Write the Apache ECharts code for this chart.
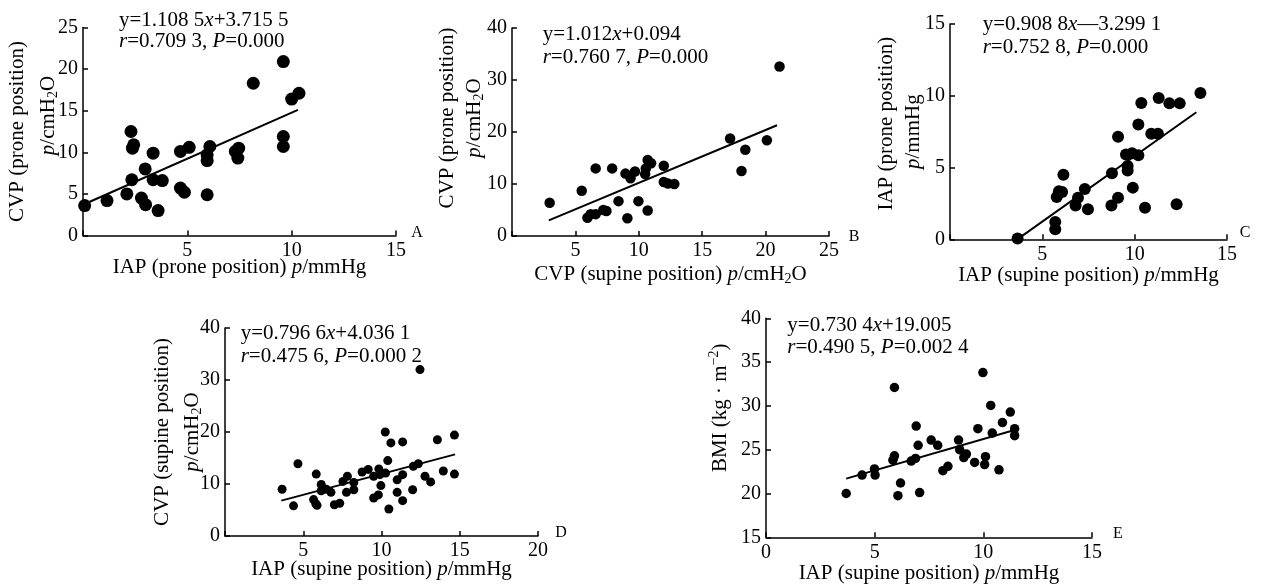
<!DOCTYPE html>
<html><head><meta charset="utf-8">
<script src="https://cdn.jsdelivr.net/npm/echarts@6/dist/echarts.min.js"></script>
<style>html,body{margin:0;padding:0;background:#fff}#c{width:1264px;height:587px}</style>
</head><body><div id="c"></div>
<script>
// ---------- DATA ----------
// Panel A: IAP (prone) vs CVP (prone)
const aPoints = [[0.08,3.6],[1.15,4.2],[2.1,5.0],[2.3,12.5],[2.37,10.5],[2.43,10.9],[2.34,6.7],[2.8,4.5],[3.0,3.7],[2.98,8.0],[3.36,9.9],[3.36,6.7],[3.8,6.6],[3.6,3.0],[4.67,5.7],[4.86,5.2],[4.67,10.1],[5.09,10.6],[5.95,4.9],[5.95,9.7],[5.95,9.0],[6.08,10.7],[7.3,10.1],[7.42,9.3],[7.46,10.5],[8.16,18.3],[9.6,20.9],[9.6,11.9],[9.6,10.7],[10.0,16.4],[10.35,17.1]];
const aFit = [[0,3.7],[10.3,15.1]];
const aEq = ['y=1.108 5{i|x}+3.715 5', '{i|r}=0.709 3, {i|P}=0.000'];
// Panel B: CVP (supine) vs CVP (prone)
const bPoints = [[2.97,6.4],[5.5,8.7],[5.95,3.5],[6.2,4.2],[6.6,4.2],[6.6,13.0],[7.2,5.0],[7.45,4.8],[7.9,13.0],[8.4,6.7],[8.95,12.0],[9.35,11.1],[9.7,12.4],[9.1,3.4],[9.97,6.7],[10.5,11.9],[10.55,13.0],[10.7,4.9],[10.7,14.6],[10.97,14.0],[11.97,13.5],[11.97,10.4],[12.3,10.1],[12.8,10.0],[17.2,18.75],[18.1,12.5],[18.4,16.6],[20.1,18.4],[21.1,32.6]];
const bFit = [[2.9,3.0],[20.9,21.3]];
const bEq = ['y=1.012{i|x}+0.094', '{i|r}=0.760 7, {i|P}=0.000'];
// Panel C: IAP (supine) vs IAP (prone)
const cPoints = [[3.66,0.05],[5.7,1.2],[5.7,0.7],[5.78,2.95],[5.9,3.35],[6.07,3.3],[6.14,4.5],[6.8,2.35],[6.93,2.9],[7.3,3.5],[7.47,2.1],[8.74,2.35],[8.77,4.6],[9.1,2.9],[9.1,7.15],[9.53,5.9],[9.62,5.1],[9.62,4.8],[9.86,6.0],[9.9,3.6],[10.2,5.85],[10.2,8.0],[10.36,9.5],[10.56,2.2],[10.9,7.35],[11.26,7.35],[11.3,9.85],[11.88,9.47],[12.44,9.47],[12.27,2.45],[13.56,10.2]];
const cFit = [[3.7,0.05],[13.34,8.85]];
const cEq = ['y=0.908 8{i|x}—3.299 1', '{i|r}=0.752 8, {i|P}=0.000'];
// Panel D: IAP (supine) vs CVP (supine)
const dPoints = [[3.65,9.0],[4.38,5.8],[4.66,13.9],[5.66,7.0],[5.8,6.2],[5.88,5.9],[5.83,11.9],[6.15,9.9],[6.15,8.7],[6.47,9.0],[6.77,8.4],[6.99,6.0],[7.33,6.3],[7.54,10.5],[7.82,11.5],[7.76,8.4],[8.23,8.9],[8.23,10.3],[8.76,12.3],[9.15,12.8],[9.5,11.5],[9.83,12.9],[9.9,11.8],[9.5,7.3],[9.8,7.9],[9.96,9.7],[10.24,20.0],[10.4,14.5],[10.26,12.1],[10.47,5.2],[10.6,17.9],[11.0,10.8],[11.35,11.8],[11.0,8.4],[11.35,18.1],[11.35,6.8],[11.99,8.9],[12.03,13.4],[12.35,13.9],[12.46,32.0],[12.78,11.5],[13.14,10.4],[13.57,18.5],[13.95,12.5],[14.66,19.4],[14.66,11.9]];
const dFit = [[3.6,6.8],[14.7,15.7]];
const dEq = ['y=0.796 6{i|x}+4.036 1', '{i|r}=0.475 6, {i|P}=0.000 2'];
// Panel E: IAP (supine) vs BMI
const ePoints = [[3.69,20.0],[4.42,22.1],[4.99,22.8],[5.02,22.1],[5.84,23.8],[5.91,24.3],[5.91,32.1],[6.07,19.75],[6.19,21.2],[6.68,23.7],[6.88,24.0],[6.91,27.7],[7.0,25.5],[7.07,20.1],[7.6,26.1],[7.9,25.5],[8.14,22.6],[8.37,23.1],[8.86,26.1],[8.91,25.0],[9.22,24.5],[9.1,24.1],[9.6,23.55],[9.75,27.4],[9.98,33.8],[10.06,23.3],[10.1,24.2],[10.34,30.05],[10.41,26.9],[10.72,22.7],[10.88,28.1],[11.24,29.3],[11.44,27.4],[11.44,26.6]];
const eFit = [[3.69,21.7],[11.64,27.4]];
const eEq = ['y=0.730 4{i|x}+19.005', '{i|r}=0.490 5, {i|P}=0.002 4'];

const panelLetters = ['A','B','C','D','E'];
const xNames = ['IAP (prone position) {i|p}/mmHg','CVP (supine position) {i|p}/cmH{sub|2}O','IAP (supine position) {i|p}/mmHg','IAP (supine position) {i|p}/mmHg','IAP (supine position) {i|p}/mmHg'];
const yNames = ['CVP (prone position)\n{s32| }{i|p}/cmH{sub|2}O','CVP (prone position)\n{i|p}/cmH{sub|2}O','{s16| }IAP (prone position)\n{i|p}/mmHg','CVP (supine position)\n{i|p}/cmH{sub|2}O','BMI (kg · m{sup|−2})'];
const xRanges = [[0,15,5],[0,25,5],[0,15,5],[0,20,5],[0,15,5]];
const yRanges = [[0,25,5],[0,40,10],[0,15,5],[0,40,10],[15,40,5]];

// ---------- LAYOUT ----------
const FF = 'Liberation Serif';
const layout = [
  {grid:{left:83,top:27.5,width:313,height:208}, sym:13, xGap:21, xLH:21, yGap:18.7, yLH:31, yPad:[0,0,0,0], eq:{x:119,y:10.2,lh:21}, letter:[417,233], showX0:false},
  {grid:{left:512,top:28,width:317,height:208}, sym:10.5, xGap:25, xLH:26, yGap:24.5, yLH:27, yPad:[0,0,0,28], eq:{x:542.7,y:22.25,lh:23.5}, letter:[854,237], showX0:false},
  {grid:{left:950,top:24,width:277,height:215.3}, sym:12, xGap:26, xLH:21, yGap:23.5, yLH:27, yPad:[0,0,0,0], eq:{x:982.7,y:12.5,lh:23}, letter:[1245,233], showX0:false},
  {grid:{left:225,top:328,width:313,height:208}, sym:9, xGap:23, xLH:21, yGap:18, yLH:30, yPad:[0,0,0,0], eq:{x:240.7,y:321.2,lh:23.7}, letter:[561,533], showX0:false},
  {grid:{left:766,top:318.3,width:326,height:219}, sym:9.5, xGap:25.7, xLH:21, yGap:33, yLH:26, yPad:[0,0,0,40], eq:{x:787.3,y:313.75,lh:22.5}, letter:[1118,534], showX0:true}
];
const allPoints = [aPoints,bPoints,cPoints,dPoints,ePoints];
const allFits = [aFit,bFit,cFit,dFit,eFit];
const allEqs = [aEq,bEq,cEq,dEq,eEq];

function nameRich(lh){
  return {
    i:{fontFamily:FF,fontSize:21,fontStyle:'italic',color:'#000',lineHeight:lh},
    sub:{fontFamily:FF,fontSize:14,color:'#000',lineHeight:14,padding:[10,0,0,0]},
    sup:{fontFamily:FF,fontSize:14,color:'#000',lineHeight:14,padding:[0,0,12,0]},
    s16:{width:16,lineHeight:lh,fontSize:10},
    s32:{width:32,lineHeight:lh,fontSize:10}
  };
}
const axisCommon = {
  axisLine:{lineStyle:{color:'#000',width:1.5}},
  axisTick:{inside:true,length:5,lineStyle:{color:'#000',width:1.5}},
  splitLine:{show:false},
  nameMoveOverlap:false,
  axisLabel:{fontFamily:FF,fontSize:20,color:'#000',margin:5}
};

const grids=[],xAxes=[],yAxes=[],series=[],graphics=[];
layout.forEach((L,k)=>{
  grids.push(Object.assign({containLabel:false,outerBoundsMode:'none'},L.grid));
  const xr=xRanges[k], yr=yRanges[k];
  xAxes.push(Object.assign({}, axisCommon, {
    type:'value', gridIndex:k, min:xr[0], max:xr[1], interval:xr[2],
    name:xNames[k], nameLocation:'middle', nameGap:L.xGap,
    nameTextStyle:{fontFamily:FF,fontSize:21,color:'#000',lineHeight:L.xLH,rich:nameRich(L.xLH)},
    axisLabel:Object.assign({},axisCommon.axisLabel,{formatter:(v)=> (v===xr[0] && !L.showX0) ? '' : String(v)})
  }));
  yAxes.push(Object.assign({}, axisCommon, {
    type:'value', gridIndex:k, min:yr[0], max:yr[1], interval:yr[2],
    name:yNames[k], nameLocation:'middle', nameGap:L.yGap, nameRotate:90,
    nameTextStyle:{fontFamily:FF,fontSize:21,color:'#000',lineHeight:L.yLH,padding:L.yPad,align:'center',rich:nameRich(L.yLH)}
  }));
  series.push({type:'scatter',xAxisIndex:k,yAxisIndex:k,data:allPoints[k],symbol:'circle',symbolSize:L.sym,itemStyle:{color:'#000',opacity:1},clip:false,silent:true});
  series.push({type:'line',xAxisIndex:k,yAxisIndex:k,data:allFits[k],symbol:'none',lineStyle:{color:'#000',width:2},silent:true,clip:false});
  const eq = allEqs[k];
  graphics.push({type:'text',x:L.eq.x,y:L.eq.y,silent:true,style:{
    text:eq[0]+'\n'+eq[1], align:'left', verticalAlign:'top', fontFamily:FF, fontSize:21, fill:'#000', lineHeight:L.eq.lh,
    rich:{i:{fontFamily:FF,fontSize:21,fontStyle:'italic',fill:'#000',lineHeight:L.eq.lh}}
  }});
  graphics.push({type:'text',x:L.letter[0],y:L.letter[1],silent:true,style:{
    text:panelLetters[k], align:'center', verticalAlign:'middle', fontFamily:FF, fontSize:16, fill:'#000'
  }});
});

const chart = echarts.init(document.getElementById('c'));
chart.setOption({
  animation:false,
  backgroundColor:'#fff',
  grid:grids, xAxis:xAxes, yAxis:yAxes, series:series, graphic:graphics
});
</script></body></html>
